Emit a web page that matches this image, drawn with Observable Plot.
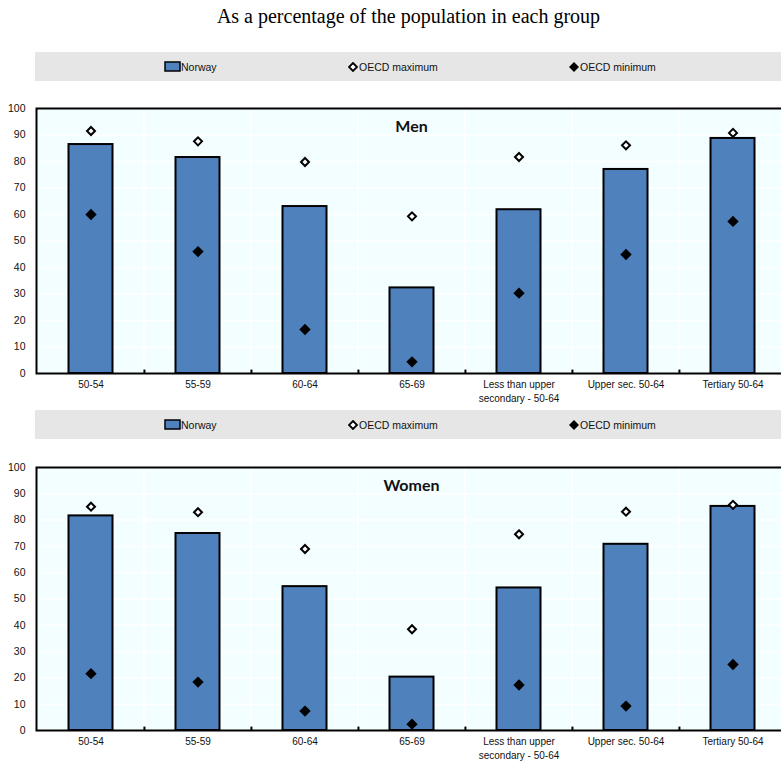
<!DOCTYPE html>
<html><head><meta charset="utf-8">
<script src="https://cdn.jsdelivr.net/npm/d3@7"></script>
<script src="https://cdn.jsdelivr.net/npm/@observablehq/plot@0.6"></script>
<style>
body{margin:0;background:#fff;width:781px;height:764px;overflow:hidden;position:relative;font-family:"Liberation Sans",Arial,sans-serif}
.title{position:absolute;left:36px;width:745px;top:5px;text-align:center;font-family:"Liberation Serif","Times New Roman",serif;font-size:20px;color:#000;white-space:nowrap}
.legend{position:absolute;left:35px;width:746px;height:29px;background:#e6e6e6;font-family:"Liberation Sans",Arial,sans-serif;font-size:10.5px;color:#111}
.item{position:absolute;top:0;height:29px;display:flex;align-items:center;white-space:nowrap}
.item svg{display:block}
.chart{position:absolute;left:0}
</style></head>
<body>
<div class="title">As a percentage of the population in each group</div>
<div class="legend" id="leg1"></div>
<div class="chart" id="c1" style="top:92px"></div>
<div class="legend" id="leg2"></div>
<div class="chart" id="c2" style="top:451px"></div>
<script>
const categories = ["50-54","55-59","60-64","65-69","Less than upper secondary - 50-64","Upper sec. 50-64","Tertiary 50-64"];
const yTicks = [0,10,20,30,40,50,60,70,80,90,100];
const seriesNames = ["Norway","OECD maximum","OECD minimum"];
const panels = ["Men","Women"];

const menNorway = [86.4, 81.5, 63.0, 32.3, 61.8, 77.0, 88.7];
const menMax    = [91.5, 87.6, 79.8, 59.3, 81.7, 86.1, 90.8];
const menMin    = [60.0, 46.0, 16.6,  4.4, 30.3, 44.9, 57.4];
const womenNorway = [81.6, 74.9, 54.7, 20.3, 54.2, 70.8, 85.2];
const womenMax    = [85.1, 83.0, 69.0, 38.5, 74.6, 83.2, 85.8];
const womenMin    = [21.6, 18.4,  7.4,  2.4, 17.3,  9.3, 25.1];

const BLUE = "#4f81bd";

function legend(id, top) {
  const el = document.getElementById(id);
  el.style.top = top + "px";
  el.innerHTML =
    `<div class="item" style="left:129px"><svg width="17" height="11"><rect x="1" y="1" width="15" height="9" fill="${BLUE}" stroke="black" stroke-width="1.5"/></svg><span>${seriesNames[0]}</span></div>` +
    `<div class="item" style="left:313px"><svg width="10" height="10"><path d="M5,1L9,5L5,9L1,5Z" fill="white" stroke="black" stroke-width="1.8"/></svg><span style="margin-left:1px">${seriesNames[1]}</span></div>` +
    `<div class="item" style="left:534px"><svg width="10" height="10"><path d="M5,0L10,5L5,10L0,5Z" fill="black"/></svg><span style="margin-left:1px">${seriesNames[2]}</span></div>`;
}

function chart(norway, max, min, panel, h, mt, mb) {
  const rows = categories.map((c, i) => ({cat: c, norway: norway[i], max: max[i], min: min[i]}));
  const W = 781, left = 36, right = 786;
  const bw = (right - left) / categories.length;
  const fmt = d => d.replace("upper secondary", "upper\nsecondary");
  return Plot.plot({
    width: W, height: h,
    marginLeft: left, marginRight: W - right, marginTop: mt, marginBottom: mb,
    style: {fontFamily: '"Liberation Sans", Arial, sans-serif', fontSize: "10px", color: "#111", background: "transparent", overflow: "visible"},
    x: {domain: categories, padding: 0, label: null, tickSize: 0, tickPadding: 5, tickFormat: fmt},
    y: {domain: [0, 100], ticks: yTicks, label: null, tickSize: 0, tickPadding: 11},
    marks: [
      Plot.barY(categories, {x: d => d, y1: 0, y2: 100, fill: "#f2feff", stroke: "white", strokeWidth: 1.5}),
      Plot.ruleY(yTicks, {y: d => d, stroke: "white", strokeWidth: 1.5}),
      Plot.barY(rows, {x: "cat", y: "norway", fill: BLUE, stroke: "black", strokeWidth: 2, insetLeft: 31.5, insetRight: 31.5}),
      Plot.dot(rows, {x: "cat", y: "max", symbol: "diamond2", r: 3.6, fill: "white", stroke: "black", strokeWidth: 2}),
      Plot.dot(rows, {x: "cat", y: "min", symbol: "diamond2", r: 5.1, fill: "black", stroke: "none"}),
      Plot.ruleX(categories.slice(1), {x: d => d, y1: 0, y2: 1.3, dx: -bw / 2, stroke: "black", strokeWidth: 2}),
      Plot.frame({stroke: "black", strokeWidth: 2}),
      Plot.axisX({tickSize: 0, tickPadding: 5, lineHeight: 1.35, fontSize: 10, tickFormat: fmt}),
      Plot.axisY({ticks: yTicks, tickSize: 0, tickPadding: 11, fontSize: 10.5}),
      Plot.text([panel], {frameAnchor: "top", dy: 12, text: d => d, fontWeight: "bold", fontSize: 16, fontFamily: "Lato, 'Open Sans', sans-serif", fill: "#111"})
    ]
  });
}

legend("leg1", 52);
legend("leg2", 410);
document.getElementById("c1").append(chart(menNorway, menMax, menMin, panels[0], 318, 16, 37));
document.getElementById("c2").append(chart(womenNorway, womenMax, womenMin, panels[1], 313, 16, 34));
</script>
</body></html>
